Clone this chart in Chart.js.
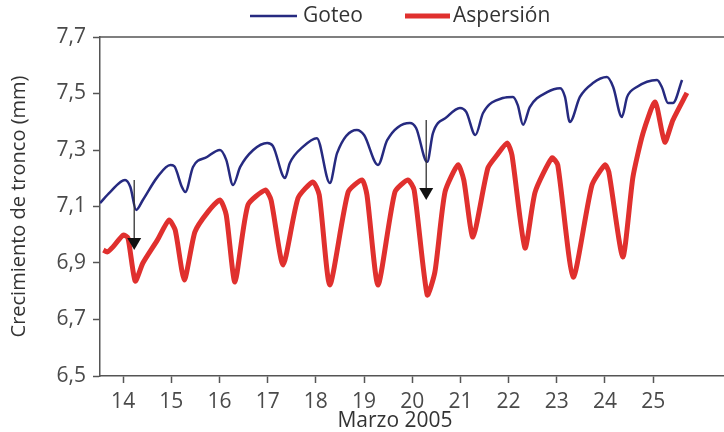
<!DOCTYPE html>
<html lang="es">
<head>
  <meta charset="UTF-8" />
  <title>Crecimiento de tronco - Marzo 2005</title>
  <script src="https://cdn.jsdelivr.net/npm/chart.js@4"></script>
  <style>
    html, body { margin: 0; padding: 0; background: #fff; }
    #wrap { width: 724px; height: 432px; }
  </style>
</head>
<body>
  <div id="wrap"><canvas id="grafico"></canvas></div>

  <script>
    // Goteo (riego por goteo)
    const goteoDias = [13.52,13.73,14.04,14.15,14.27,14.41,14.71,14.98,15.06,15.22,15.29,15.45,15.74,16.01,16.14,16.28,16.43,16.70,16.99,17.11,17.36,17.46,17.73,18.02,18.29,18.44,18.85,19.00,19.29,19.48,19.95,20.08,20.31,20.43,20.72,20.99,21.12,21.31,21.47,21.88,22.09,22.19,22.30,22.44,22.80,23.07,23.17,23.27,23.48,23.75,24.04,24.17,24.35,24.46,24.66,25.08,25.18,25.31,25.41,25.60];
    const goteoMm = [7.112,7.151,7.194,7.169,7.088,7.123,7.204,7.247,7.243,7.169,7.151,7.240,7.275,7.300,7.265,7.176,7.240,7.300,7.325,7.314,7.201,7.254,7.311,7.342,7.183,7.289,7.371,7.353,7.247,7.335,7.396,7.378,7.258,7.360,7.417,7.449,7.435,7.353,7.431,7.484,7.488,7.459,7.389,7.452,7.505,7.519,7.488,7.399,7.488,7.537,7.558,7.523,7.417,7.488,7.523,7.548,7.523,7.466,7.466,7.548];

    // Aspersión
    const aspersionDias = [13.59,13.67,13.79,14.00,14.10,14.25,14.41,14.71,14.95,15.08,15.27,15.49,15.76,16.01,16.14,16.32,16.59,16.95,17.07,17.32,17.63,17.94,18.07,18.29,18.67,18.96,19.06,19.29,19.64,19.91,20.04,20.31,20.47,20.68,20.95,21.07,21.26,21.57,21.76,21.97,22.07,22.34,22.55,22.90,23.02,23.34,23.73,24.00,24.08,24.37,24.58,24.79,25.04,25.24,25.41,25.70];
    const aspersionMm = [6.946,6.939,6.957,6.999,6.989,6.836,6.900,6.981,7.052,7.017,6.840,7.010,7.081,7.123,7.070,6.833,7.105,7.158,7.123,6.893,7.130,7.187,7.141,6.822,7.151,7.194,7.141,6.822,7.151,7.194,7.158,6.787,6.868,7.151,7.247,7.194,6.992,7.236,7.282,7.325,7.282,6.953,7.151,7.272,7.247,6.850,7.176,7.247,7.222,6.921,7.204,7.360,7.470,7.328,7.406,7.502];

    const diasTicks = [14,15,16,17,18,19,20,21,22,23,24,25];
    const mmTicks = [6.5,6.7,6.9,7.1,7.3,7.5,7.7];

    // flechas: [dia, desde, hasta]
    const flechas = [[14.23, 7.194, 6.946], [20.29, 7.406, 7.123]];

    const FUENTE = "'Open Sans', sans-serif";
    const GRIS = '#4a4a4a';
    Chart.defaults.font.family = FUENTE;
    Chart.defaults.color = GRIS;

    const puntos = (xs, ys) => xs.map((x, i) => ({ x: x, y: ys[i] }));

    // leyenda, marco superior, flechas y título del eje x
    const extras = {
      id: 'extras',
      afterDraw(chart) {
        const { ctx, chartArea, scales } = chart;
        ctx.save();

        ctx.strokeStyle = '#555';
        ctx.lineWidth = 1.5;
        ctx.beginPath();
        ctx.moveTo(chartArea.left, chartArea.top);
        ctx.lineTo(chartArea.right, chartArea.top);
        ctx.stroke();

        ctx.strokeStyle = '#333';
        ctx.fillStyle = '#111';
        flechas.forEach(([d, y0, y1]) => {
          const x = scales.x.getPixelForValue(d);
          const top = scales.y.getPixelForValue(y0);
          const tip = scales.y.getPixelForValue(y1);
          ctx.lineWidth = 1.3;
          ctx.beginPath();
          ctx.moveTo(x, top);
          ctx.lineTo(x, tip - 10);
          ctx.stroke();
          ctx.beginPath();
          ctx.moveTo(x - 7, tip - 12);
          ctx.lineTo(x + 7, tip - 12);
          ctx.lineTo(x, tip);
          ctx.closePath();
          ctx.fill();
        });

        // leyenda
        const leyenda = [[250, 297, 303], [405, 450, 453]];
        ctx.font = '21px ' + FUENTE;
        ctx.textBaseline = 'middle';
        ctx.textAlign = 'left';
        chart.data.datasets.forEach((ds, i) => {
          const [a, b, t] = leyenda[i];
          ctx.strokeStyle = ds.borderColor;
          ctx.lineWidth = ds.borderWidth;
          ctx.beginPath();
          ctx.moveTo(a, 16);
          ctx.lineTo(b, 16);
          ctx.stroke();
          ctx.fillStyle = '#333';
          ctx.fillText(ds.label, t, 16);
        });

        ctx.textAlign = 'center';
        ctx.fillStyle = '#333';
        ctx.fillText('Marzo 2005', 395, 421);
        ctx.restore();
      }
    };

    new Chart(document.getElementById('grafico'), {
      type: 'line',
      data: {
        datasets: [
          {
            label: 'Goteo',
            data: puntos(goteoDias, goteoMm),
            borderColor: '#262a80',
            borderWidth: 2.5,
            pointRadius: 0,
            tension: 0.3,
            cubicInterpolationMode: 'monotone'
          },
          {
            label: 'Aspersión',
            data: puntos(aspersionDias, aspersionMm),
            borderColor: '#e0302e',
            borderWidth: 5,
            pointRadius: 0,
            tension: 0.2
          }
        ]
      },
      options: {
        responsive: true,
        maintainAspectRatio: false,
        animation: false,
        layout: { padding: { top: 37, right: 0, bottom: 0, left: 0 } },
        plugins: {
          legend: { display: false },
          tooltip: { enabled: false }
        },
        scales: {
          x: {
            type: 'linear',
            min: 13.52,
            max: 26.47,
            afterBuildTicks: (s) => { s.ticks = diasTicks.map(v => ({ value: v })); },
            afterFit: (s) => { s.height = 56; },
            ticks: {
              font: { size: 21 },
              color: GRIS,
              padding: 6,
              maxRotation: 0,
              autoSkip: false
            },
            grid: { drawOnChartArea: false, tickLength: 7, tickColor: '#555', tickWidth: 1.5 },
            border: { color: '#555', width: 1.5 }
          },
          y: {
            min: 6.5,
            max: 7.7,
            afterBuildTicks: (s) => { s.ticks = mmTicks.map(v => ({ value: v })); },
            afterFit: (s) => { s.width = 100; },
            ticks: {
              font: { size: 21 },
              color: GRIS,
              padding: 7,
              callback: (v) => v.toFixed(1).replace('.', ',')
            },
            grid: { drawOnChartArea: false, tickLength: 7, tickColor: '#555', tickWidth: 1.5 },
            border: { color: '#555', width: 1.5 },
            title: {
              display: true,
              text: 'Crecimiento de tronco (mm)',
              font: { size: 20 },
              color: '#333',
              padding: { top: 7, bottom: 0 }
            }
          }
        }
      },
      plugins: [extras]
    });
  </script>
</body>
</html>
